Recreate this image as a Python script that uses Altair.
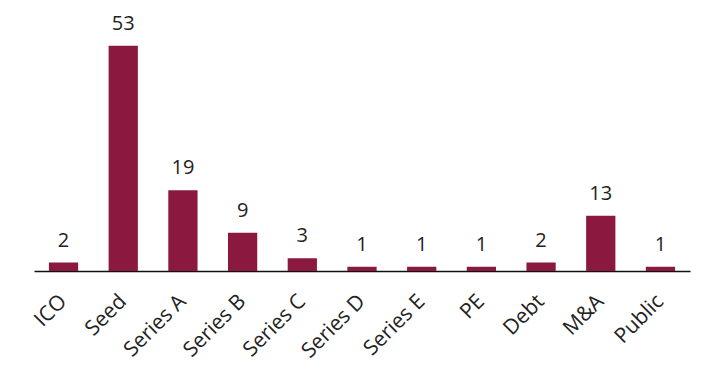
import altair as alt
import pandas as pd

categories = ["ICO", "Seed", "Series A", "Series B", "Series C", "Series D",
              "Series E", "PE", "Debt", "M&A", "Public"]
counts = [2, 53, 19, 9, 3, 1, 1, 1, 2, 13, 1]

df = pd.DataFrame({"stage": categories, "count": counts})

FONT = "Open Sans"
BAR = "#8B183F"

x = alt.X("stage:N", sort=categories, title=None,
          scale=alt.Scale(paddingInner=0.51, paddingOuter=0.25),
          axis=alt.Axis(labelAngle=-45, labelAlign="right", labelBaseline="middle",
                        labelFontSize=21, labelFont=FONT, labelColor="#222222",
                        labelPadding=27, ticks=False, domainColor="#111111",
                        domainWidth=1.5, grid=False, labelOverlap=False))
y = alt.Y("count:Q", scale=alt.Scale(domain=[0, 56.5], nice=False), axis=None)

bars = alt.Chart(df).mark_bar(color=BAR).encode(x=x, y=y)
labels = alt.Chart(df).mark_text(font=FONT, fontSize=20, color="#222222",
                                 baseline="alphabetic", dy=-16).encode(
    x=alt.X("stage:N", sort=categories), y=y, text="count:Q")

chart = alt.layer(bars, labels).properties(
    width=656, height=240,
    autosize=alt.AutoSizeParams(type="none"),
    padding={"left": 34, "top": 31, "right": 24, "bottom": 100},
).configure_view(stroke=None)

chart.save("out.html", embed_options={"renderer": "svg", "actions": False})
